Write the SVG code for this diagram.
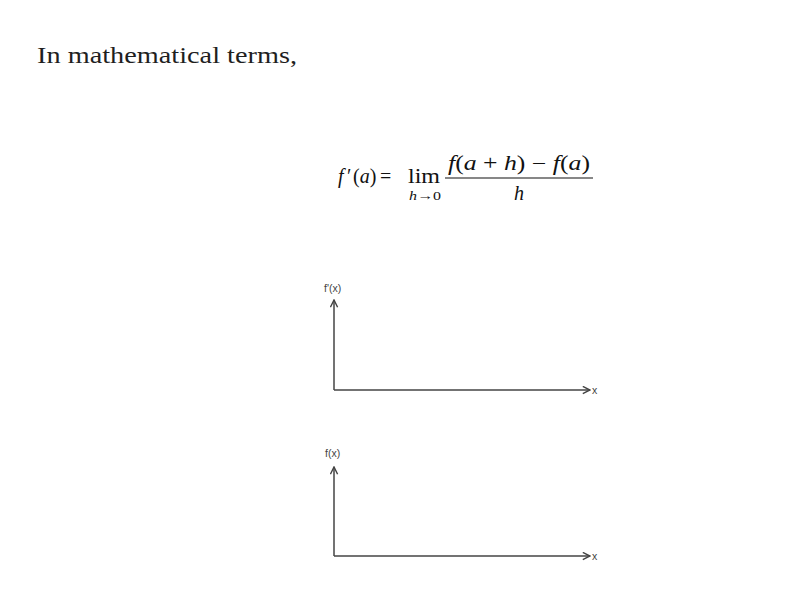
<svg xmlns="http://www.w3.org/2000/svg" width="796" height="596" viewBox="0 0 796 596">
<style>
.title{font-family:"Liberation Serif","DejaVu Serif",serif;font-size:23px;fill:#1f1f1f}
.m{font-family:"Liberation Serif","DejaVu Serif",serif;font-size:20px;fill:#111}
.mi{font-style:italic}
.sm{font-family:"Liberation Serif","DejaVu Serif",serif;font-size:13px;fill:#111}
.lab{font-family:"Liberation Sans","DejaVu Sans",sans-serif;font-size:10.5px;fill:#444}
.ax{stroke:#444;stroke-width:1.5;fill:none}
</style>
<defs>
<marker id="ah" viewBox="0 0 10 10" refX="9" refY="5" markerWidth="9" markerHeight="9" orient="auto" markerUnits="userSpaceOnUse">
<path d="M1,1 L9,5 L1,9" fill="none" stroke="#444" stroke-width="1.6"/>
</marker>
</defs>
<rect width="796" height="596" fill="#fff"/>
<text class="title" x="37" y="63" textLength="260" lengthAdjust="spacingAndGlyphs">In mathematical terms,</text>
<g id="formula">
<text class="m mi" x="338" y="183">f</text>
<text class="m" x="347" y="183">′</text>
<text class="m" x="353" y="183">(<tspan class="mi">a</tspan>)</text>
<text class="m" x="380" y="183">=</text>
<text class="m" x="408" y="183" textLength="32" lengthAdjust="spacingAndGlyphs">lim</text>
<text class="sm" x="409" y="200" textLength="32" lengthAdjust="spacingAndGlyphs"><tspan class="mi">h</tspan>→0</text>
<text class="m" x="448" y="170" textLength="142" lengthAdjust="spacingAndGlyphs"><tspan class="mi">f</tspan>(<tspan class="mi">a</tspan> + <tspan class="mi">h</tspan>) − <tspan class="mi">f</tspan>(<tspan class="mi">a</tspan>)</text>
<line x1="445" y1="178" x2="593" y2="178" stroke="#111" stroke-width="1.2"/>
<text class="m mi" x="514" y="200">h</text>
</g>
<g id="graph1">
<text class="lab" x="324" y="292">f'(x)</text>
<text class="lab" x="592" y="394">x</text>
</g>
<g id="graph2">
<text class="lab" x="325" y="457">f(x)</text>
<text class="lab" x="592" y="560">x</text>
</g>
<g id="connectors">
<path class="ax" d="M334,390 L334,300" marker-end="url(#ah)"/>
<path class="ax" d="M334,390 L590,390" marker-end="url(#ah)"/>
<path class="ax" d="M334,556 L334,467" marker-end="url(#ah)"/>
<path class="ax" d="M334,556 L590,556" marker-end="url(#ah)"/>
</g>
</svg>
